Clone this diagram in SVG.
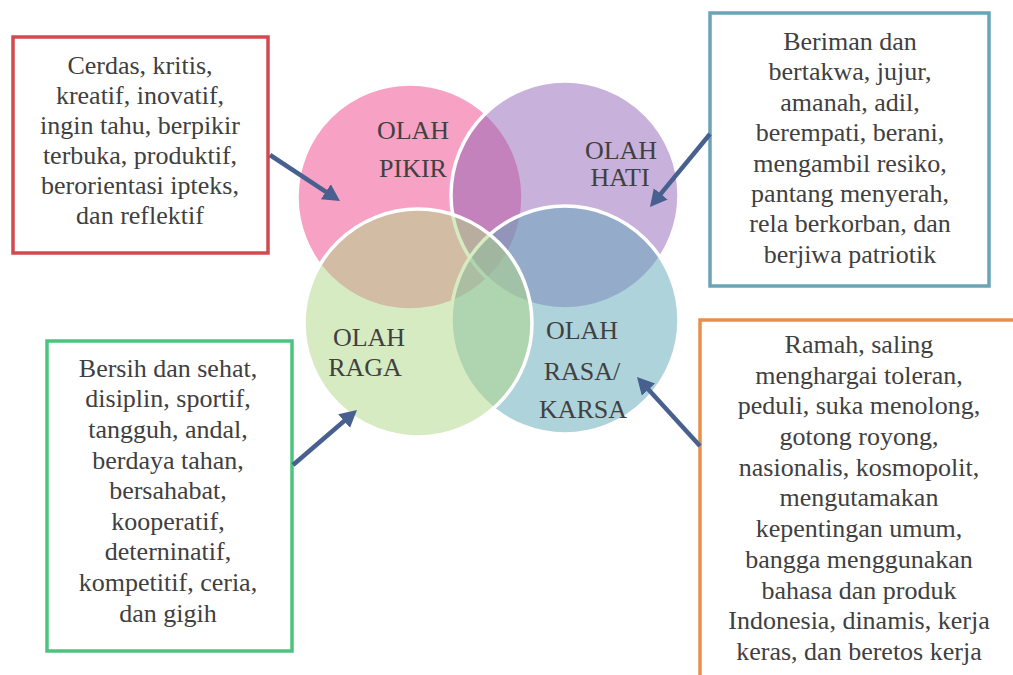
<svg xmlns="http://www.w3.org/2000/svg" width="1013" height="675" viewBox="0 0 1013 675">
<defs>
<style>
.lbl{font-family:'Liberation Serif','Times New Roman',serif;font-size:26px;fill:#404040;text-anchor:middle}
.box{fill:#ffffff;stroke-width:3.5}
.circ{stroke:#ffffff;stroke-width:3.5;fill-opacity:0.5}
.conn{stroke:#48608f;stroke-width:4.5;fill:none;marker-end:url(#ah)}
</style>
<marker id="ah" markerUnits="userSpaceOnUse" markerWidth="20" markerHeight="20" refX="2" refY="9" orient="auto">
<path d="M0,0 L17,9 L0,18 Z" fill="#48608f"/>
</marker>
</defs>
<rect width="1013" height="675" fill="#ffffff"/>

<g id="venn">
<g id="olah-pikir"><circle class="circ" cx="410" cy="197" r="113" fill="#ef4389"/></g>
<g id="olah-hati"><circle class="circ" cx="565" cy="195" r="114" fill="#9163b5"/></g>
<g id="olah-rasa"><circle class="circ" cx="565" cy="320" r="114" fill="#5fa7b7"/></g>
<g id="olah-raga"><circle class="circ" cx="418" cy="323" r="114" fill="#add783"/></g>
<g id="venn-labels">
<text class="lbl" x="413" y="139">OLAH</text>
<text class="lbl" x="413" y="177">PIKIR</text>
<text class="lbl" x="621" y="159">OLAH</text>
<text class="lbl" x="620" y="186">HATI</text>
<text class="lbl" x="369" y="346">OLAH</text>
<text class="lbl" x="365" y="376">RAGA</text>
<text class="lbl" x="582" y="339">OLAH</text>
<text class="lbl" x="582" y="380">RASA/</text>
<text class="lbl" x="583" y="418">KARSA</text>
</g>
</g>

<g id="box-pikir">
<rect class="box" x="13" y="37" width="255" height="216" stroke="#d04a4e"/>
<text class="lbl" x="140" y="74">Cerdas, kritis,</text>
<text class="lbl" x="140" y="104">kreatif, inovatif,</text>
<text class="lbl" x="140" y="134">ingin tahu, berpikir</text>
<text class="lbl" x="140" y="164">terbuka, produktif,</text>
<text class="lbl" x="140" y="194">berorientasi ipteks,</text>
<text class="lbl" x="140" y="224">dan reflektif</text>
</g>

<g id="box-hati">
<rect class="box" x="710" y="13" width="279" height="273" stroke="#6aa4b6"/>
<text class="lbl" x="850" y="50">Beriman dan</text>
<text class="lbl" x="850" y="80">bertakwa, jujur,</text>
<text class="lbl" x="850" y="111">amanah, adil,</text>
<text class="lbl" x="850" y="141">berempati, berani,</text>
<text class="lbl" x="850" y="172">mengambil resiko,</text>
<text class="lbl" x="850" y="202">pantang menyerah,</text>
<text class="lbl" x="850" y="232">rela berkorban, dan</text>
<text class="lbl" x="850" y="263">berjiwa patriotik</text>
</g>

<g id="box-raga">
<rect class="box" x="47" y="341" width="245" height="310" stroke="#4cc47d"/>
<text class="lbl" x="168" y="377">Bersih dan sehat,</text>
<text class="lbl" x="168" y="407">disiplin, sportif,</text>
<text class="lbl" x="168" y="438">tangguh, andal,</text>
<text class="lbl" x="168" y="469">berdaya tahan,</text>
<text class="lbl" x="168" y="499">bersahabat,</text>
<text class="lbl" x="168" y="530">kooperatif,</text>
<text class="lbl" x="168" y="560">deterninatif,</text>
<text class="lbl" x="168" y="591">kompetitif, ceria,</text>
<text class="lbl" x="168" y="622">dan gigih</text>
</g>

<g id="box-rasa">
<rect class="box" x="700" y="320" width="340" height="380" stroke="#ea8f4b"/>
<text class="lbl" x="859" y="353">Ramah, saling</text>
<text class="lbl" x="859" y="384">menghargai toleran,</text>
<text class="lbl" x="859" y="414">peduli, suka menolong,</text>
<text class="lbl" x="859" y="445">gotong royong,</text>
<text class="lbl" x="859" y="476">nasionalis, kosmopolit,</text>
<text class="lbl" x="859" y="506">mengutamakan</text>
<text class="lbl" x="859" y="537">kepentingan umum,</text>
<text class="lbl" x="859" y="568">bangga menggunakan</text>
<text class="lbl" x="859" y="599">bahasa dan produk</text>
<text class="lbl" x="859" y="629">Indonesia, dinamis, kerja</text>
<text class="lbl" x="859" y="660">keras, dan beretos kerja</text>
</g>

<g id="connectors">
<line class="conn" x1="270" y1="155" x2="327.5" y2="192.8"/>
<line class="conn" x1="710" y1="134" x2="659.5" y2="195.4"/>
<line class="conn" x1="293" y1="465" x2="345.6" y2="419.8"/>
<line class="conn" x1="700" y1="446" x2="647.1" y2="388.1"/>
</g>
</svg>
